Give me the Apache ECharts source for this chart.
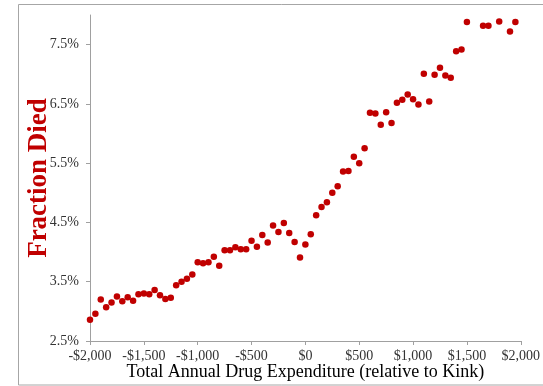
<!DOCTYPE html>
<html>
<head>
<meta charset="utf-8">
<style>
  html, body { margin: 0; padding: 0; background: #fff; }
  #chart { width: 543px; height: 386px; }
</style>
<script src="https://cdn.jsdelivr.net/npm/echarts@6/dist/echarts.min.js"></script>
</head>
<body>
<div id="chart"></div>
<script>
// Spending bins (dollars relative to the kink), 50-dollar steps
const spending = [
  -2000, -1950, -1900, -1850, -1800, -1750, -1700, -1650, -1600, -1550,
  -1500, -1450, -1400, -1350, -1300, -1250, -1200, -1150, -1100, -1050,
  -1000, -950, -900, -850, -800, -750, -700, -650, -600, -550,
  -500, -450, -400, -350, -300, -250, -200, -150, -100, -50,
  0, 50, 100, 150, 200, 250, 300, 350, 400, 450,
  500, 550, 600, 650, 700, 750, 800, 850, 900, 950,
  1000, 1050, 1100, 1150, 1200, 1250, 1300, 1350, 1400, 1450,
  1500, 1650, 1700, 1800, 1900, 1950
];

// Fraction died in each bin, percent
const fractionDied = [
  2.86, 2.96, 3.20, 3.07, 3.15, 3.25, 3.17, 3.24, 3.18, 3.29,
  3.30, 3.29, 3.36, 3.27, 3.21, 3.23, 3.44, 3.50, 3.55, 3.62,
  3.83, 3.81, 3.83, 3.92, 3.77, 4.03, 4.03, 4.08, 4.05, 4.05,
  4.19, 4.09, 4.29, 4.16, 4.45, 4.34, 4.49, 4.32, 4.17, 3.91,
  4.13, 4.30, 4.62, 4.76, 4.84, 5.00, 5.11, 5.36, 5.37, 5.61,
  5.50, 5.75, 6.35, 6.34, 6.15, 6.36, 6.18, 6.52, 6.57, 6.66,
  6.58, 6.49, 7.01, 6.54, 6.99, 7.11, 6.98, 6.94, 7.39, 7.42,
  7.88, 7.82, 7.82, 7.89, 7.72, 7.88
];

const yTicks = [2.5, 3.5, 4.5, 5.5, 6.5, 7.5];

const points = spending.map((x, i) => [x, fractionDied[i]]);

function dollars(v) {
  const abs = Math.abs(v).toLocaleString('en-US');
  return (v < 0 ? '-$' : '$') + abs;
}

const serif = '"Liberation Serif", "Times New Roman", serif';
const red = '#c00000';

const chart = echarts.init(document.getElementById('chart'), null, { renderer: 'canvas' });

chart.setOption({
  backgroundColor: '#ffffff',
  animation: false,
  graphic: [{
    type: 'rect',
    shape: { x: 18.5, y: 4.5, width: 600, height: 380.5 },
    style: { fill: 'none', stroke: '#a6a6a6', lineWidth: 1 },
    silent: true
  }],
  grid: { left: 90, right: 22, top: 15, bottom: 45, containLabel: false },
  xAxis: {
    type: 'value',
    min: -2000,
    max: 2000,
    interval: 500,
    name: 'Total Annual Drug Expenditure (relative to Kink)',
    nameLocation: 'middle',
    nameGap: 22,
    nameMoveOverlap: false,
    nameTextStyle: { fontFamily: serif, fontSize: 18, color: '#000' },
    axisLine: { show: true, onZero: false, lineStyle: { color: '#a0a0a0', width: 1 } },
    axisTick: { show: true, inside: false, length: 4, lineStyle: { color: '#a0a0a0' } },
    axisLabel: {
      fontFamily: serif, fontSize: 14, color: '#333', margin: 8,
      formatter: dollars
    },
    splitLine: { show: false }
  },
  yAxis: {
    type: 'value',
    min: 2.5,
    max: 8.0,
    interval: 1,
    name: 'Fraction Died',
    nameLocation: 'middle',
    nameRotate: 90,
    nameGap: 37,
    nameMoveOverlap: false,
    nameTextStyle: { fontFamily: serif, fontSize: 27, fontWeight: 'bold', color: red },
    axisLine: { show: true, onZero: false, lineStyle: { color: '#a0a0a0', width: 1 } },
    axisTick: { show: true, inside: false, length: 4, customValues: yTicks, lineStyle: { color: '#a0a0a0' } },
    axisLabel: {
      fontFamily: serif, fontSize: 14, color: '#333', margin: 11,
      customValues: yTicks,
      formatter: v => v.toFixed(1) + '%'
    },
    splitLine: { show: false }
  },
  series: [{
    type: 'scatter',
    data: points,
    symbol: 'circle',
    symbolSize: 6.5,
    itemStyle: { color: red, opacity: 1 },
    clip: true
  }]
});
</script>
</body>
</html>
